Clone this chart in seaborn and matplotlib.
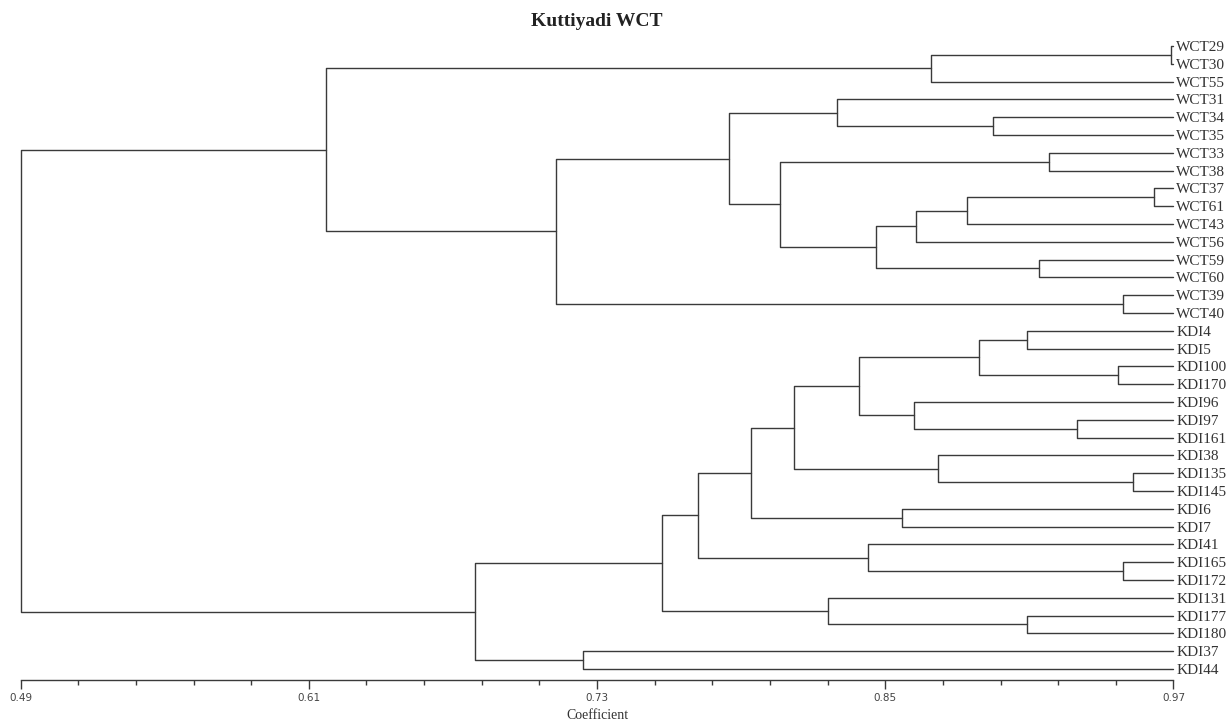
# Dendrogram of Kuttiyadi WCT and KDI accessions (similarity coefficient)

import numpy as np
import pandas as pd
import matplotlib
matplotlib.use('Agg')
import matplotlib.pyplot as plt
import seaborn as sns

# leaves, top to bottom
leaf_labels = [
    'WCT29', 'WCT30', 'WCT55', 'WCT31', 'WCT34', 'WCT35', 'WCT33', 'WCT38',
    'WCT37', 'WCT61', 'WCT43', 'WCT56', 'WCT59', 'WCT60', 'WCT39', 'WCT40',
    'KDI4', 'KDI5', 'KDI100', 'KDI170', 'KDI96', 'KDI97', 'KDI161', 'KDI38',
    'KDI135', 'KDI145', 'KDI6', 'KDI7', 'KDI41', 'KDI165', 'KDI172',
    'KDI131', 'KDI177', 'KDI180', 'KDI37', 'KDI44',
]

# merges in order: child names (leaf or "m<k>") and the coefficient they join at
merge_pairs = [
    ('WCT29', 'WCT30'),   # m0
    ('m0', 'WCT55'),      # m1
    ('WCT34', 'WCT35'),   # m2
    ('WCT31', 'm2'),      # m3
    ('WCT33', 'WCT38'),   # m4
    ('WCT37', 'WCT61'),   # m5
    ('m5', 'WCT43'),      # m6
    ('m6', 'WCT56'),      # m7
    ('WCT59', 'WCT60'),   # m8
    ('m7', 'm8'),         # m9
    ('m4', 'm9'),         # m10
    ('m3', 'm10'),        # m11
    ('WCT39', 'WCT40'),   # m12
    ('m11', 'm12'),       # m13
    ('m1', 'm13'),        # m14
    ('KDI4', 'KDI5'),     # m15
    ('KDI100', 'KDI170'),  # m16
    ('m15', 'm16'),       # m17
    ('KDI97', 'KDI161'),  # m18
    ('KDI96', 'm18'),     # m19
    ('m17', 'm19'),       # m20
    ('KDI135', 'KDI145'),  # m21
    ('KDI38', 'm21'),     # m22
    ('m20', 'm22'),       # m23
    ('KDI6', 'KDI7'),     # m24
    ('m23', 'm24'),       # m25
    ('KDI165', 'KDI172'),  # m26
    ('KDI41', 'm26'),     # m27
    ('m25', 'm27'),       # m28
    ('KDI177', 'KDI180'),  # m29
    ('KDI131', 'm29'),    # m30
    ('m28', 'm30'),       # m31
    ('KDI37', 'KDI44'),   # m32
    ('m31', 'm32'),       # m33
    ('m14', 'm33'),       # m34
]
merge_coef = [
    0.969, 0.869, 0.895, 0.830, 0.918, 0.962, 0.884, 0.863, 0.914, 0.846,
    0.806, 0.785, 0.949, 0.713, 0.617,
    0.909, 0.947, 0.889, 0.930, 0.862, 0.839, 0.953, 0.872, 0.812, 0.857,
    0.794, 0.949, 0.843, 0.772, 0.909, 0.826, 0.757, 0.724, 0.679, 0.49,
]

major_ticks = [0.49, 0.61, 0.73, 0.85, 0.97]


def build_links():
    leaf_coef = major_ticks[-1]
    pos = {name: (leaf_coef, i) for i, name in enumerate(leaf_labels)}
    rows = []
    for k, ((a, b), c) in enumerate(zip(merge_pairs, merge_coef)):
        xa, ya = pos[a]
        xb, yb = pos[b]
        for x, y in [(xa, ya), (c, ya), (c, yb), (xb, yb)]:
            rows.append({'link': k, 'coef': x, 'pos': y})
        pos[f'm{k}'] = (c, (ya + yb) / 2)
    return pd.DataFrame(rows)


def main():
    sns.set_style('white')
    plt.rcParams['font.family'] = ['Liberation Serif', 'DejaVu Serif']

    links = build_links()
    n = len(leaf_labels)

    fig = plt.figure(figsize=(12.29, 7.22), dpi=100)
    ax = fig.add_axes([0.0168, 0.0582, 0.938, 0.9028])

    sns.lineplot(data=links, x='coef', y='pos', units='link', estimator=None,
                 sort=False, color='#3a3a3a', linewidth=1.0, ax=ax, legend=False)
    for line in ax.lines:
        line.set_clip_on(False)

    ax.set_xlim(major_ticks[0], major_ticks[-1])
    ax.set_ylim(n - 1 + 0.62, -1)

    for side in ['top', 'left', 'right']:
        ax.spines[side].set_visible(False)
    ax.spines['bottom'].set_color('#3a3a3a')
    ax.spines['bottom'].set_linewidth(1.0)

    ax.set_xticks(major_ticks)
    ax.set_xticklabels([f'{t:.2f}' for t in major_ticks],
                       fontfamily='DejaVu Sans', fontsize=7.5, color='#444444')
    ax.set_xticks(np.linspace(major_ticks[0], major_ticks[-1], 21), minor=True)
    ax.tick_params(axis='x', which='major', direction='out', length=6.5,
                   width=1.0, color='#3a3a3a', pad=3, bottom=True)
    ax.tick_params(axis='x', which='minor', direction='out', length=3.6,
                   width=1.0, color='#3a3a3a', bottom=True)

    ax.yaxis.tick_right()
    ax.set_yticks(range(n))
    ax.set_yticklabels(leaf_labels, fontsize=11, color='#333333')
    ax.tick_params(axis='y', which='both', length=0, pad=2, left=False, right=False)

    ax.set_xlabel('Coefficient', fontsize=10, color='#333333', va='center')
    ax.xaxis.set_label_coords(0.5, -0.054)
    ax.set_ylabel('')

    fig.text(0.5 * (0.0168 * 2 + 0.938), 1 - 21 / 722, 'Kuttiyadi WCT',
             ha='center', va='center', fontsize=14, fontweight='bold',
             color='#222222')

    fig.savefig('out.png', dpi=100)


if __name__ == '__main__':
    main()
